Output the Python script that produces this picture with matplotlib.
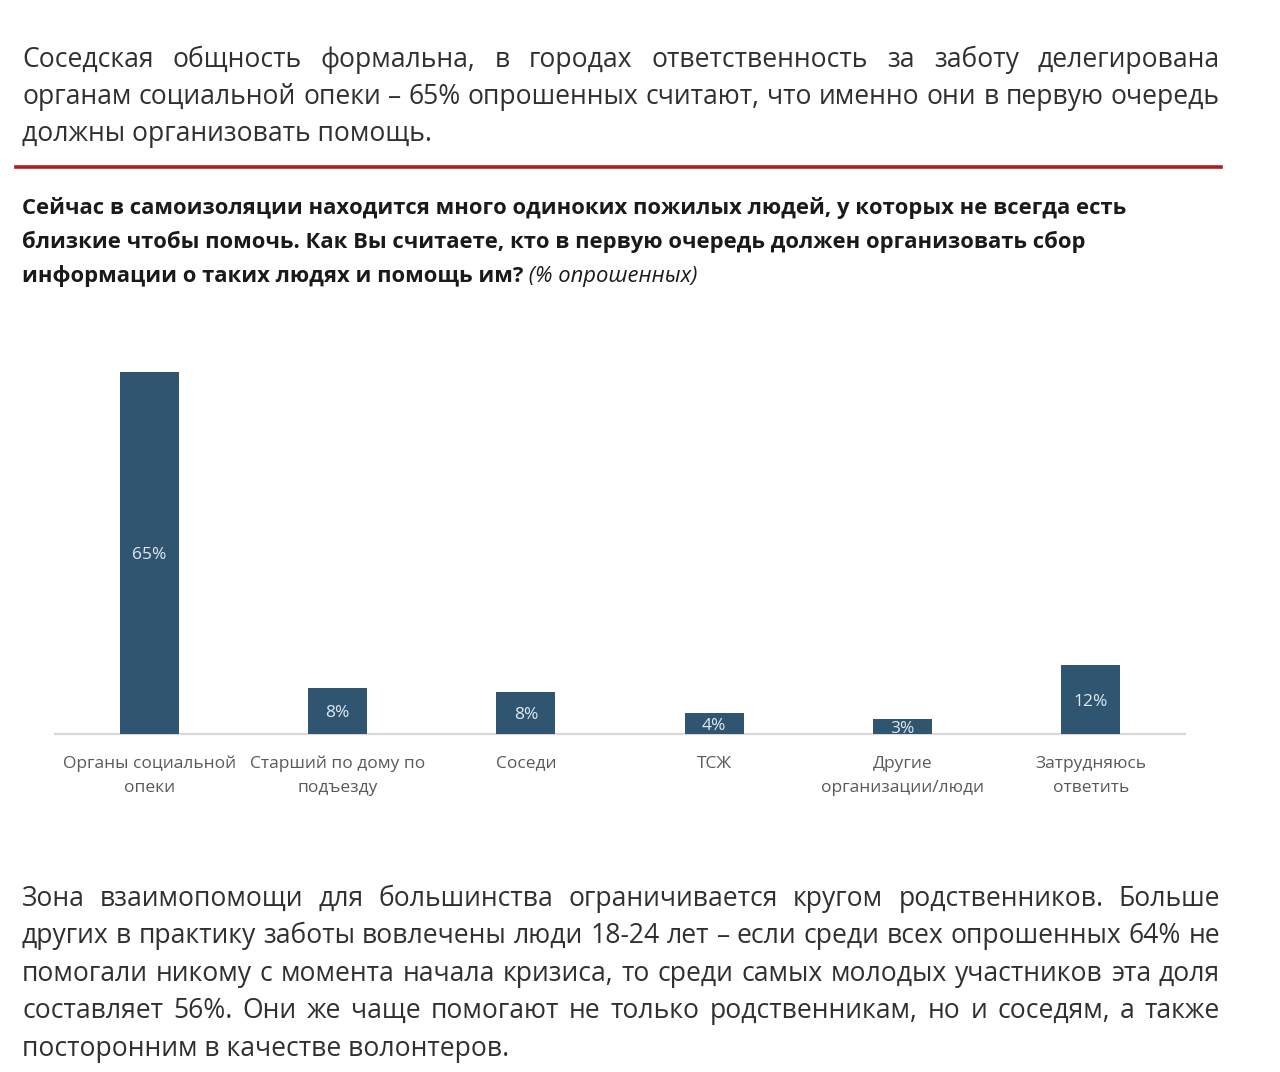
import matplotlib
matplotlib.use("Agg")
import matplotlib.pyplot as plt

# ---- data ----
categories = ["Органы социальной\nопеки", "Старший по дому по\nподъезду", "Соседи", "ТСЖ",
              "Другие\nорганизации/люди", "Затрудняюсь\nответить"]
values = [65, 8.3, 7.6, 3.8, 2.7, 12.4]
value_labels = ["65%", "8%", "8%", "4%", "3%", "12%"]

para_top = [
    "Соседская общность формальна, в городах ответственность за заботу делегирована",
    "органам социальной опеки – 65% опрошенных считают, что именно они в первую очередь",
    "должны организовать помощь.",
]
question_lines = [
    "Сейчас в самоизоляции находится много одиноких пожилых людей, у которых не всегда есть",
    "близкие чтобы помочь. Как Вы считаете, кто в первую очередь должен организовать сбор",
    "информации о таких людях и помощь им?",
]
question_note = " (% опрошенных)"
para_bottom = [
    "Зона взаимопомощи для большинства ограничивается кругом родственников. Больше",
    "других в практику заботы вовлечены люди 18-24 лет – если среди всех опрошенных 64% не",
    "помогали никому с момента начала кризиса, то среди самых молодых участников эта доля",
    "составляет 56%. Они же чаще помогают не только родственникам, но и соседям, а также",
    "посторонним в качестве волонтеров.",
]

W, H = 1280, 1072
FAM = ["Open Sans", "DejaVu Sans"]
plt.rcParams["font.family"] = FAM

fig = plt.figure(figsize=(W / 100, H / 100), dpi=100)
fig.patch.set_facecolor("white")
renderer = fig.canvas.get_renderer()


def fx(px):
    return px / W


def fy(py):
    return 1 - py / H


def width_of(s, size, **kw):
    t = fig.text(0, 0, s, fontsize=size, **kw)
    w = t.get_window_extent(renderer).width
    t.remove()
    return w


def fit_size(lines, target, **kw):
    base = 10
    wmax = max(width_of(l, base, **kw) for l in lines)
    return base * target / wmax


def justified(lines, x0, x1, baselines, size, color, last_left=True, **kw):
    for i, (line, yb) in enumerate(zip(lines, baselines)):
        words = line.split(" ")
        if (i == len(lines) - 1 and last_left) or len(words) == 1:
            fig.text(fx(x0), fy(yb), line, fontsize=size, color=color, va="baseline", **kw)
            continue
        ws = [width_of(w, size, **kw) for w in words]
        gap = (x1 - x0 - sum(ws)) / (len(words) - 1)
        x = x0
        for w, ww in zip(words, ws):
            fig.text(fx(x), fy(yb), w, fontsize=size, color=color, va="baseline", **kw)
            x += ww + gap


TEXT_COL = "#303030"
# top paragraph
s_top = fit_size(para_top[1:2], 1190)
justified(para_top, 22, 1220, [67, 104, 141], s_top, TEXT_COL)

# red rule
fig.add_artist(plt.Line2D([fx(16), fx(1221)], [fy(167), fy(167)], color="#B01E1E", lw=2.6,
                          transform=fig.transFigure))

# question (bold)
s_q = fit_size(question_lines[0:1], 1109, fontweight="bold")
for line, yb in zip(question_lines, [214, 248, 282]):
    fig.text(fx(22), fy(yb), line, fontsize=s_q, fontweight="bold", color="#1a1a1a", va="baseline")
wlast = width_of(question_lines[2], s_q, fontweight="bold")
fig.text(fx(22 + wlast), fy(282), question_note, fontsize=s_q, fontstyle="italic",
         color="#1a1a1a", va="baseline")

# bottom paragraph
s_bot = fit_size(para_bottom[1:2], 1192)
justified(para_bottom, 22, 1220, [906, 943, 981, 1018, 1056], s_bot, TEXT_COL)

# ---- chart ----
ax_left, ax_right, ax_top, ax_bottom = 55, 1185, 340, 734
ax = fig.add_axes([fx(ax_left), fy(ax_bottom), (ax_right - ax_left) / W, (ax_bottom - ax_top) / H])
px_per_pct = (734 - 372) / 65.0
ax.set_ylim(0, (ax_bottom - ax_top) / px_per_pct)
ax.set_xlim(-0.5, len(categories) - 0.5)
xs = list(range(len(categories)))
bars = ax.bar(xs, values, width=0.315, color="#2F5571", zorder=3)
for b, lab in zip(bars, value_labels):
    ax.text(b.get_x() + b.get_width() / 2, b.get_height() / 2 - 0.4, lab, ha="center", va="center",
            fontsize=12.5, color="#E3E9EF", zorder=4)
for s in ["top", "right", "left"]:
    ax.spines[s].set_visible(False)
ax.spines["bottom"].set_color("#D9D9D9")
ax.spines["bottom"].set_linewidth(1.6)
ax.set_yticks([])
ax.set_xticks(xs)
ax.set_xticklabels(categories, fontsize=12.5, color="#595959", linespacing=1.7)
ax.tick_params(axis="x", length=0, pad=15.5)
ax.patch.set_alpha(0)

fig.savefig("out.png", dpi=100, facecolor="white")
